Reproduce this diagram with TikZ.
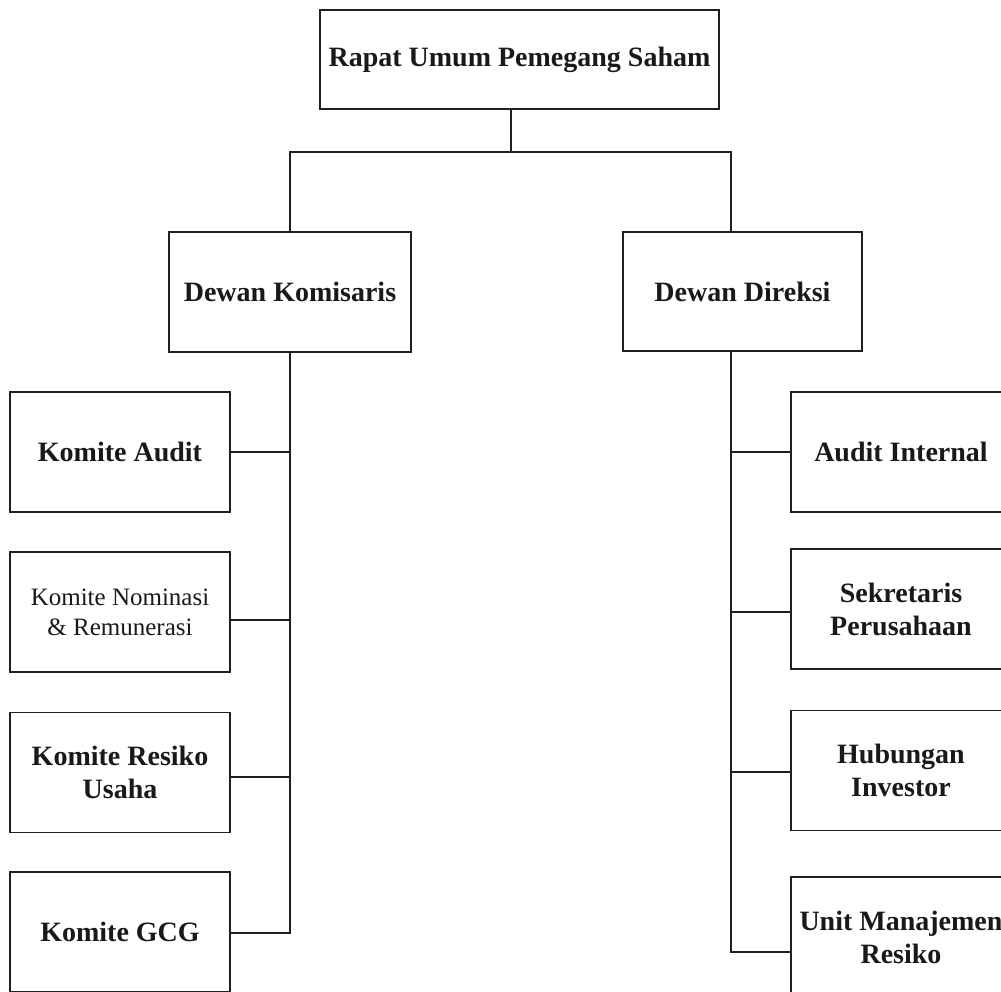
\documentclass[tikz,border=0pt]{standalone}
\usepackage{fontspec}
\setmainfont{Liberation Serif}
\begin{document}
\begin{tikzpicture}[x=1pt,y=-1pt,
  unit/.style={draw=black!88, line width=1.8pt, rectangle, inner sep=0pt,
    align=center, font=\fontsize{28}{33}\selectfont\bfseries, text=black!90},
  small/.style={font=\fontsize{25}{30}\selectfont, text=black!90},
  wire/.style={line width=1.8pt, draw=black!88}]
\clip (0,0) rectangle (1001,992);
\fill[white] (0,0) rectangle (1001,992);

% top level
\node[unit, minimum width=399pt, minimum height=99pt] (rups) at (519.5,59.5) {Rapat Umum Pemegang Saham};

% boards
\node[unit, minimum width=242pt, minimum height=120pt] (dk) at (290,292) {Dewan Komisaris};
\node[unit, minimum width=239pt, minimum height=119pt] (dd) at (742.5,291.5) {Dewan Direksi};

% committees under the board of commissioners
\node[unit, minimum width=220pt, minimum height=120pt] (ka) at (120,452) {Komite Audit};
\node[unit, small, minimum width=220pt, minimum height=120pt] (kn) at (120,612) {Komite Nominasi\\\& Remunerasi};
\node[unit, minimum width=220pt, minimum height=120pt] (kr) at (120,772.5) {Komite Resiko\\Usaha};
\node[unit, minimum width=220pt, minimum height=120pt] (kg) at (120,932) {Komite GCG};

% units under the board of directors
\node[unit, minimum width=220pt, minimum height=120pt] (ai) at (901,452) {Audit Internal};
\node[unit, minimum width=220pt, minimum height=120pt] (sp) at (901,609) {Sekretaris\\Perusahaan};
\node[unit, minimum width=220pt, minimum height=120pt] (hi) at (901,770.5) {Hubungan\\Investor};
\node[unit, minimum width=220pt, minimum height=120pt] (um) at (901,937) {Unit Manajemen\\Resiko};

% junction points of the connectors
\coordinate (jt) at (511,152);
\coordinate (rtrunk) at (731,0);

% RUPS to the two boards
\draw[wire] (jt |- rups.south) -- (jt);
\draw[wire] (dk.north) |- (jt) -| (rtrunk |- dd.north);

% left trunk and branches
\draw[wire] (dk.south) -- ([yshift=-1pt]kg.east -| dk.south) -- ([yshift=-1pt]kg.east);
\draw[wire] (ka.east) -- (ka.east -| dk.south);
\draw[wire] ([yshift=-8pt]kn.east) -- ([yshift=-8pt]kn.east -| dk.south);
\draw[wire] ([yshift=-4.5pt]kr.east) -- ([yshift=-4.5pt]kr.east -| dk.south);

% right trunk and branches
\draw[wire] (rtrunk |- dd.south) -- ([yshift=-15pt]um.west -| rtrunk) -- ([yshift=-15pt]um.west);
\draw[wire] (ai.west -| rtrunk) -- (ai.west);
\draw[wire] ([yshift=-3pt]sp.west -| rtrunk) -- ([yshift=-3pt]sp.west);
\draw[wire] ([yshift=-1.5pt]hi.west -| rtrunk) -- ([yshift=-1.5pt]hi.west);
\end{tikzpicture}
\end{document}
